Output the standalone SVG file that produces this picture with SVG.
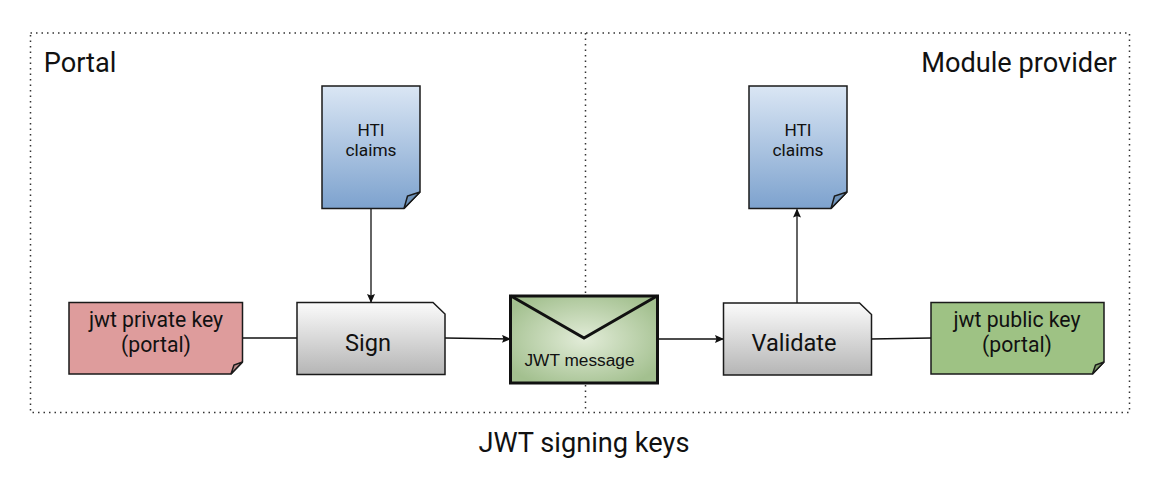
<svg xmlns="http://www.w3.org/2000/svg" width="1164" height="482" viewBox="0 0 1164 482">
<style>
text{font-family:Roboto,"Liberation Sans",sans-serif;text-anchor:middle;fill:#111}
.t16{font-size:17.3px}.t18{font-size:21.2px}.t22{font-size:23.6px}.t26{font-size:27.2px}
.nd{stroke:#1a1a1a;stroke-width:1.5;stroke-linejoin:miter}
.c{fill:none;stroke:#111;stroke-width:1.3}
.d{fill:none;stroke:#333;stroke-width:1.5;stroke-dasharray:1.5 4}
</style>
<defs>
<marker id="a" markerUnits="userSpaceOnUse" markerWidth="9" markerHeight="8" refX="8" refY="4" orient="auto"><path d="M0 0L9 4L0 8L1.500 4Z" fill="#111"/></marker>
<linearGradient id="blue" x1="0" y1="0" x2="0" y2="1"><stop offset="0" stop-color="#dae6f4"/><stop offset="1" stop-color="#7da2ce"/></linearGradient>
<linearGradient id="grey" x1="0" y1="0" x2="0" y2="1"><stop offset="0" stop-color="#fbfbfb"/><stop offset="1" stop-color="#b5b5b5"/></linearGradient>
<radialGradient id="green" cx="0.5" cy="0.5" r="0.6"><stop offset="0" stop-color="#e2ecd8"/><stop offset="1" stop-color="#a3c08f"/></radialGradient>
</defs>
<g id="boundary">
<rect class="d" x="30.500" y="33" width="1099" height="379.500"/>
<path class="d" d="M585.500 33V412"/>
</g>
<g id="connectors">
<path class="c" d="M371 209V302" marker-end="url(#a)"/>
<path class="c" d="M243 338H297"/>
<path class="c" d="M445 338L510 339" marker-end="url(#a)"/>
<path class="c" d="M658 339H723" marker-end="url(#a)"/>
<path class="c" d="M797 303V209.500" marker-end="url(#a)"/>
<path class="c" d="M871 339L931 338"/>
</g>
<g id="hti-claims-left">
<path class="nd" fill="url(#blue)" d="M322 86H420V192L404 208.500H322Z"/>
<path class="nd" fill="#6f93ba" d="M404 208.500L407.500 196L420 192Z"/>
<text class="t16" x="371" y="135.500">HTI</text><text class="t16" x="371" y="156">claims</text>
</g>
<g id="hti-claims-right">
<path class="nd" fill="url(#blue)" d="M749 86H847V192L831 208.500H749Z"/>
<path class="nd" fill="#6f93ba" d="M831 208.500L834.500 196L847 192Z"/>
<text class="t16" x="798" y="135.500">HTI</text><text class="t16" x="798" y="156">claims</text>
</g>
<g id="private-key">
<path class="nd" fill="#de9c9c" d="M69 302.500H242.500V362L231 374H69Z"/>
<path class="nd" fill="#b98a8a" d="M231 374L234 365L242.500 362Z"/>
<text class="t18" x="156" y="326.500">jwt private key</text><text class="t18" x="156" y="352">(portal)</text>
</g>
<g id="sign">
<path class="nd" fill="url(#grey)" d="M297 302.500H433L445 314V374.500H297Z"/>
<text class="t22" x="368" y="350.500">Sign</text>
</g>
<g id="jwt-message">
<rect x="510.500" y="296" width="147" height="87" fill="url(#green)" stroke="#111" stroke-width="3"/>
<path d="M511 296L584 338L657 296" fill="none" stroke="#111" stroke-width="3"/>
<text class="t16" x="579.500" y="366" style="font-family:'Liberation Sans',sans-serif">JWT message</text>
</g>
<g id="validate">
<path class="nd" fill="url(#grey)" d="M723.500 303H859.500L871.500 314.500V375H723.500Z"/>
<text class="t22" x="794" y="350.500">Validate</text>
</g>
<g id="public-key">
<path class="nd" fill="#9ec284" d="M931 302.500H1104V362L1092.500 374H931Z"/>
<path class="nd" fill="#7f9c6a" d="M1092.500 374L1095.500 365L1104 362Z"/>
<text class="t18" x="1017" y="326.500">jwt public key</text><text class="t18" x="1017" y="352">(portal)</text>
</g>
<text class="t26" x="80" y="71.500">Portal</text>
<text class="t26" x="1019" y="71.500">Module provider</text>
<text class="t26" x="584" y="452">JWT signing keys</text>
</svg>
